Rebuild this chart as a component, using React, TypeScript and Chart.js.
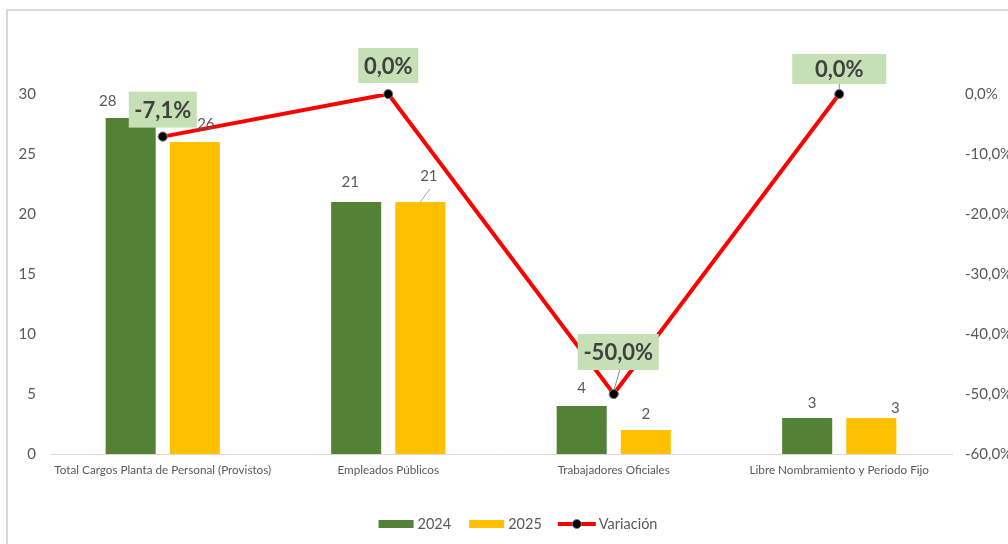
import React, { useEffect, useRef } from "react";
import { Chart, registerables } from "chart.js";

Chart.register(...registerables);

// ---- data ----
const categories = [
  "Total Cargos Planta de Personal (Provistos)",
  "Empleados Públicos",
  "Trabajadores Oficiales",
  "Libre Nombramiento y Periodo Fijo",
];
const values2024 = [28, 21, 4, 3];
const values2025 = [26, 21, 2, 3];
const variacion = [-0.071, 0, -0.5, 0];
const seriesNames = ["2024", "2025", "Variación"];

// ---- styles ----
const GREEN = "#538135";
const YELLOW = "#FFC000";
const RED = "#FF0000";
const TEXT = "#595959";
const FONT = "Lato";

// label offsets (dx, dy) relative to the bar top centre
const barLabelOffsets = [
  [[-23, -17], [-6, -20], [0, -17.5], [5, -14.5]],
  [[11, -17.5], [8.5, -26], [0, -16], [24, -9.5]],
];
const barLabelLeaders = [
  [false, false, false, false],
  [false, true, false, false],
];
// variation label boxes: dx, dy of box centre relative to point, width, height, leader
const varBoxes = [
  { dx: 0, dy: -27, w: 68, h: 36, leader: false },
  { dx: 0, dy: -28.5, w: 60, h: 35, leader: false },
  { dx: 4.5, dy: -42, w: 81, h: 36, leader: true },
  { dx: 0, dy: -25, w: 94, h: 30, leader: true },
];

const fmtPct = (v: number) => (v * 100).toFixed(1).replace(".", ",") + "%";

const labelsPlugin = {
  id: "customLabels",
  afterDatasetsDraw(chart: any) {
    const ctx = chart.ctx;
    ctx.save();
    // bar value labels
    ctx.font = `15px ${FONT}`;
    ctx.fillStyle = TEXT;
    ctx.textAlign = "center";
    ctx.textBaseline = "middle";
    [values2024, values2025].forEach((vals, di) => {
      const meta = chart.getDatasetMeta(di);
      meta.data.forEach((bar: any, i: number) => {
        const [dx, dy] = barLabelOffsets[di][i];
        const x = bar.x + dx;
        const y = bar.y + dy;
        if (barLabelLeaders[di][i]) {
          ctx.strokeStyle = "#A6A6A6";
          ctx.lineWidth = 1;
          ctx.beginPath();
          ctx.moveTo(bar.x, bar.y);
          ctx.lineTo(x + 1, y + 13);
          ctx.stroke();
        }
        ctx.fillStyle = TEXT;
        ctx.fillText(String(vals[i]), x, y);
      });
    });
    // variation labels
    const lmeta = chart.getDatasetMeta(2);
    lmeta.data.forEach((pt: any, i: number) => {
      const b = varBoxes[i];
      const cx = pt.x + b.dx;
      const cy = pt.y + b.dy;
      if (b.leader) {
        ctx.strokeStyle = "#8C8C8C";
        ctx.lineWidth = 1;
        ctx.beginPath();
        ctx.moveTo(cx + (i === 2 ? 1.5 : 0), cy + b.h / 2);
        ctx.lineTo(pt.x, pt.y - 3);
        ctx.stroke();
      }
      ctx.fillStyle = "#C5E0B4";
      ctx.fillRect(cx - b.w / 2, cy - b.h / 2, b.w, b.h);
      ctx.fillStyle = "#404040";
      ctx.font = `bold 22px ${FONT}`;
      ctx.fillText(fmtPct(variacion[i]), cx, cy + 1);
    });
    // redraw points on top of leader lines
    lmeta.data.forEach((pt: any) => {
      ctx.beginPath();
      ctx.arc(pt.x, pt.y, 4.5, 0, Math.PI * 2);
      ctx.fillStyle = "#000";
      ctx.fill();
      ctx.strokeStyle = "#7F7F7F";
      ctx.lineWidth = 1;
      ctx.stroke();
    });
    ctx.restore();
  },
  afterDraw(chart: any) {
    const ctx = chart.ctx;
    ctx.save();
    // outer border
    ctx.strokeStyle = "#D9D9D9";
    ctx.lineWidth = 2;
    ctx.strokeRect(7, 10, 1100, 700);
    // legend
    ctx.font = `14.5px ${FONT}`;
    ctx.textBaseline = "middle";
    ctx.textAlign = "left";
    const y = 524;
    const boxW = 35;
    const lineW = 38;
    const items = [
      { kind: "box", color: GREEN, text: seriesNames[0] },
      { kind: "box", color: YELLOW, text: seriesNames[1] },
      { kind: "line", color: RED, text: seriesNames[2] },
    ];
    const gaps = [18, 16];
    let total = 0;
    items.forEach((it, i) => {
      total += (it.kind === "box" ? boxW + 4 : lineW + 3) + ctx.measureText(it.text).width;
      if (i < gaps.length) total += gaps[i];
    });
    let x = 518 - total / 2;
    items.forEach((it, i) => {
      if (it.kind === "box") {
        ctx.fillStyle = it.color;
        ctx.fillRect(x, y - 4, boxW, 8);
        x += boxW + 4;
      } else {
        ctx.strokeStyle = it.color;
        ctx.lineWidth = 4;
        ctx.beginPath();
        ctx.moveTo(x, y);
        ctx.lineTo(x + lineW, y);
        ctx.stroke();
        ctx.beginPath();
        ctx.arc(x + lineW / 2, y, 4.5, 0, Math.PI * 2);
        ctx.fillStyle = "#000";
        ctx.fill();
        ctx.strokeStyle = "#7F7F7F";
        ctx.lineWidth = 1;
        ctx.stroke();
        x += lineW + 3;
      }
      ctx.fillStyle = TEXT;
      ctx.fillText(it.text, x, y);
      x += ctx.measureText(it.text).width;
      if (i < gaps.length) x += gaps[i];
    });
    ctx.restore();
  },
};

const CANVAS_W = 1040;
const CANVAS_H = 544;

export default function App() {
  const ref = useRef<HTMLCanvasElement | null>(null);
  useEffect(() => {
    if (!ref.current) return;
    const chart = new Chart(ref.current, {
      type: "bar",
      data: {
        labels: categories,
        datasets: [
          {
            type: "bar",
            label: seriesNames[0],
            data: values2024,
            backgroundColor: GREEN,
            yAxisID: "y",
            order: 1,
            categoryPercentage: 0.569,
            barPercentage: 0.78,
          },
          {
            type: "bar",
            label: seriesNames[1],
            data: values2025,
            backgroundColor: YELLOW,
            yAxisID: "y",
            order: 1,
            categoryPercentage: 0.569,
            barPercentage: 0.78,
          },
          {
            type: "line",
            label: seriesNames[2],
            data: variacion,
            borderColor: RED,
            borderWidth: 4,
            backgroundColor: "#000",
            pointRadius: 4.5,
            pointBackgroundColor: "#000",
            pointBorderColor: "#7F7F7F",
            pointBorderWidth: 1,
            yAxisID: "y1",
            order: 0,
            tension: 0,
          },
        ] as any,
      },
      options: {
        animation: false,
        responsive: false,
        devicePixelRatio: 1,
        layout: { padding: { left: 0, right: 0, top: 94, bottom: 60 } },
        plugins: {
          legend: { display: false },
          tooltip: { enabled: false },
        },
        scales: {
          x: {
            grid: { display: false, drawTicks: false },
            border: { display: true, color: "#D9D9D9", width: 1 },
            ticks: {
              color: TEXT,
              font: { family: FONT, size: 11.7 },
              padding: 9,
              maxRotation: 0,
              minRotation: 0,
              autoSkip: false,
            },
            afterFit: (s: any) => {
              s.height = 30;
            },
          },
          y: {
            position: "left",
            min: 0,
            max: 30,
            grid: { display: false, drawTicks: false },
            border: { display: false },
            ticks: {
              stepSize: 5,
              color: TEXT,
              font: { family: FONT, size: 15 },
              padding: 14,
            },
            afterFit: (s: any) => {
              s.width = 50;
            },
          },
          y1: {
            position: "right",
            min: -0.6,
            max: 0,
            grid: { display: false, drawTicks: false },
            border: { display: false },
            ticks: {
              stepSize: 0.1,
              color: TEXT,
              font: { family: FONT, size: 15 },
              padding: 13,
              callback: (v: any) => fmtPct(Number(v)),
            },
            afterFit: (s: any) => {
              s.width = CANVAS_W - 952;
            },
          },
        },
      } as any,
      plugins: [labelsPlugin],
    });
    return () => chart.destroy();
  }, []);
  return (
    <div
      style={{
        position: "fixed",
        left: 0,
        top: 0,
        width: 1008,
        height: 544,
        overflow: "hidden",
        background: "#fff",
      }}
    >
      <canvas
        ref={ref}
        width={CANVAS_W}
        height={CANVAS_H}
        style={{ display: "block", width: CANVAS_W, height: CANVAS_H }}
      />
    </div>
  );
}
